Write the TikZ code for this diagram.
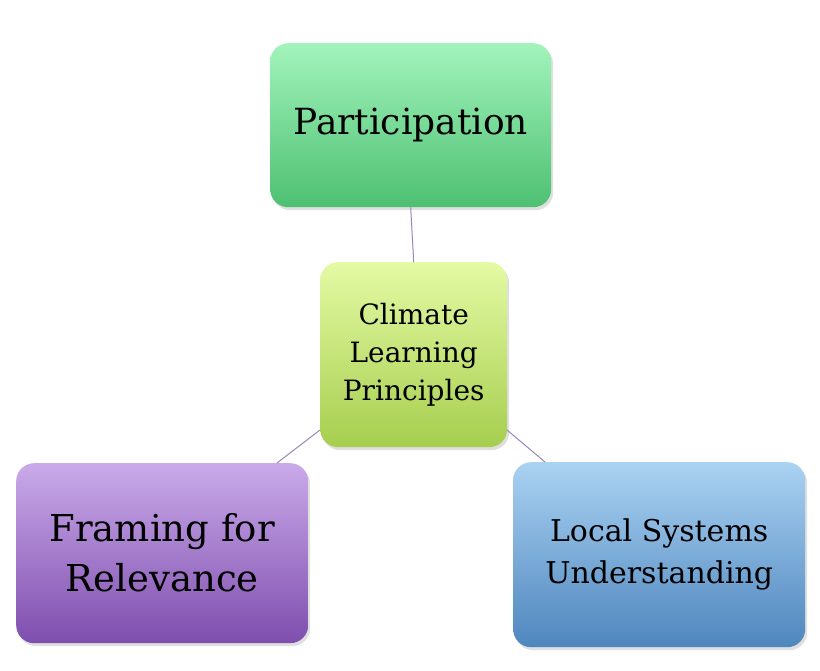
\documentclass[tikz,border=0pt]{standalone}
\usepackage{fontspec}
\setmainfont{DejaVu Serif}
\usetikzlibrary{shadows}
\definecolor{gT}{HTML}{A2F4BC}\definecolor{gB}{HTML}{4EC072}
\definecolor{yT}{HTML}{E4FAA4}\definecolor{yB}{HTML}{A6CE4E}
\definecolor{pT}{HTML}{CAAAEA}\definecolor{pB}{HTML}{7E4EAE}
\definecolor{bT}{HTML}{AAD2F2}\definecolor{bB}{HTML}{4E86BE}
\definecolor{ln}{HTML}{9A86B8}
\tikzset{box/.style={rounded corners=18pt, anchor=north west, align=center, inner sep=0pt,
  drop shadow={shadow xshift=2pt, shadow yshift=-3pt, opacity=0.25}},
  conn/.style={draw=ln, line width=1pt}}
\begin{document}
\begin{tikzpicture}[x=1pt,y=-1pt]
\useasboundingbox[fill=white] (0,0) rectangle (820,671);
\node[box, minimum width=281pt, minimum height=164pt, top color=gT, bottom color=gB, font=\fontsize{36}{44}\selectfont] (p) at (270,43) {Participation};
\node[box, minimum width=187pt, minimum height=185pt, top color=yT, bottom color=yB, font=\fontsize{28}{38}\selectfont] (c) at (320,262) {Climate\\Learning\\Principles};
\node[box, minimum width=292pt, minimum height=180pt, top color=pT, bottom color=pB, font=\fontsize{37}{50}\selectfont] (f) at (16,463) {Framing for\\Relevance};
\node[box, minimum width=292pt, minimum height=185pt, top color=bT, bottom color=bB, font=\fontsize{30}{42}\selectfont] (l) at (513,462) {Local Systems\\Understanding};
\coordinate (c1) at (320,430);
\coordinate (c2) at (507,430);
\coordinate (f1) at (277,463);
\coordinate (l1) at (545,462);
\draw[conn] (p.south) -- (c.north);
\draw[conn] (c1) -- (f1);
\draw[conn] (c2) -- (l1);
\end{tikzpicture}
\end{document}
